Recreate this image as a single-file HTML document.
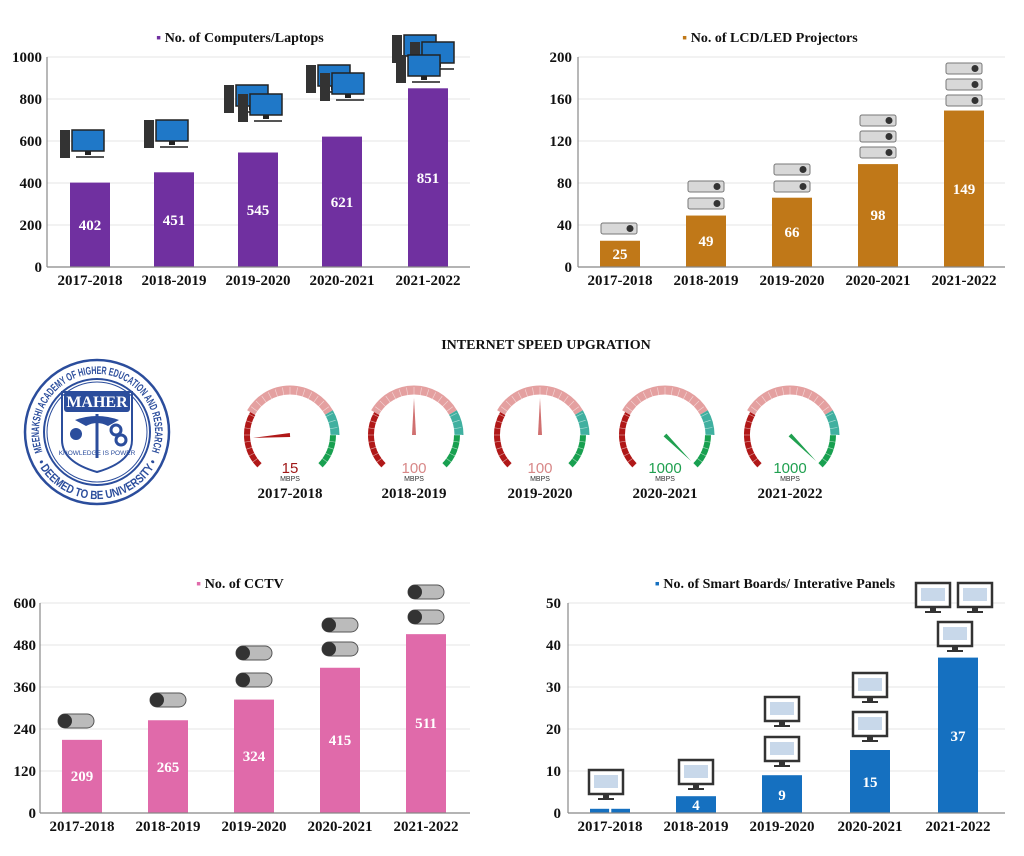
<!DOCTYPE html>
<html><head><meta charset="utf-8"><style>
body{margin:0;background:#fff;width:1024px;height:856px;overflow:hidden}
svg{display:block}
.t{font-family:"Liberation Serif",serif;font-weight:bold;fill:#111}
.ax{font-family:"Liberation Serif",serif;font-weight:bold;font-size:15px;fill:#111}
.v{font-family:"Liberation Serif",serif;font-weight:bold;font-size:15px;fill:#fff}
</style></head><body>
<svg id="s" width="1024" height="856" viewBox="0 0 1024 856" xmlns="http://www.w3.org/2000/svg">
<g id="grid" stroke="#e6e6e6" stroke-width="1"></g>
<!-- Chart 1 -->
<text class="t" x="240" y="42" font-size="14" text-anchor="middle"><tspan fill="#7030a0">▪</tspan> No. of Computers/Laptops</text>
<g class="ax" text-anchor="end">
<text x="42" y="62">1000</text><text x="42" y="104">800</text><text x="42" y="146">600</text><text x="42" y="188">400</text><text x="42" y="230">200</text><text x="42" y="272">0</text></g>
<g fill="#7030a0"><rect x="70" y="182.6" width="40" height="84.4"/><rect x="154" y="172.3" width="40" height="94.7"/><rect x="238" y="152.5" width="40" height="114.5"/><rect x="322" y="136.6" width="40" height="130.4"/><rect x="408" y="88.3" width="40" height="178.7"/></g>
<g class="v" text-anchor="middle"><text x="90" y="230">402</text><text x="174" y="225">451</text><text x="258" y="215">545</text><text x="342" y="207">621</text><text x="428" y="183">851</text></g>
<g class="ax" text-anchor="middle"><text x="90" y="285">2017-2018</text><text x="174" y="285">2018-2019</text><text x="258" y="285">2019-2020</text><text x="342" y="285">2020-2021</text><text x="428" y="285">2021-2022</text></g>
<!-- Chart 2 -->
<text class="t" x="770" y="42" font-size="14" text-anchor="middle"><tspan fill="#c07818">▪</tspan> No. of LCD/LED Projectors</text>
<g class="ax" text-anchor="end">
<text x="572" y="62">200</text><text x="572" y="104">160</text><text x="572" y="146">120</text><text x="572" y="188">80</text><text x="572" y="230">40</text><text x="572" y="272">0</text></g>
<g fill="#c07818"><rect x="600" y="240.75" width="40" height="26.25"/><rect x="686" y="215.55" width="40" height="51.45"/><rect x="772" y="197.7" width="40" height="69.3"/><rect x="858" y="164.1" width="40" height="102.9"/><rect x="944" y="110.55" width="40" height="156.45"/></g>
<g class="v" text-anchor="middle"><text x="620" y="259">25</text><text x="706" y="246">49</text><text x="792" y="237">66</text><text x="878" y="220">98</text><text x="964" y="194">149</text></g>
<g class="ax" text-anchor="middle"><text x="620" y="285">2017-2018</text><text x="706" y="285">2018-2019</text><text x="792" y="285">2019-2020</text><text x="878" y="285">2020-2021</text><text x="964" y="285">2021-2022</text></g>
<!-- Middle -->
<text class="t" x="546" y="349" font-size="14" text-anchor="middle">INTERNET SPEED UPGRATION</text>
<g class="ax" text-anchor="middle"><text x="290" y="498">2017-2018</text><text x="414" y="498">2018-2019</text><text x="540" y="498">2019-2020</text><text x="665" y="498">2020-2021</text><text x="790" y="498">2021-2022</text></g>
<g id="gauges"></g>
<g id="icons"></g>
<!-- Logo -->
<g>
<circle cx="97" cy="432" r="72" fill="none" stroke="#2b4d9c" stroke-width="2.5"/>
<circle cx="97" cy="432" r="53" fill="none" stroke="#2b4d9c" stroke-width="2"/>
<circle cx="97" cy="432" r="50" fill="none" stroke="#2b4d9c" stroke-width="1"/>
<defs><path id="lp" d="M 42.5 451.8 A 58 58 0 1 1 151.5 451.8"/><path id="lp2" d="M 34 454.9 A 67 67 0 0 0 160 454.9"/></defs>
<text font-family="Liberation Sans,sans-serif" font-weight="bold" font-size="11" fill="#2b4d9c"><textPath href="#lp" textLength="222" lengthAdjust="spacingAndGlyphs">MEENAKSHI ACADEMY OF HIGHER EDUCATION AND RESEARCH</textPath></text>
<text font-family="Liberation Sans,sans-serif" font-weight="bold" font-size="12" fill="#2b4d9c"><textPath href="#lp2" startOffset="8" textLength="148" lengthAdjust="spacingAndGlyphs">• DEEMED TO BE UNIVERSITY •</textPath></text>
<path d="M62 392 H132 V440 Q132 462 97 472 Q62 462 62 440 Z" fill="none" stroke="#2b4d9c" stroke-width="2"/>
<rect x="64" y="392" width="66" height="20" rx="3" fill="#2b4d9c"/>
<text x="97" y="407" text-anchor="middle" font-family="Liberation Serif,serif" font-weight="bold" font-size="16" fill="#fff">MAHER</text>
<line x1="97" y1="414" x2="97" y2="458" stroke="#2b4d9c" stroke-width="3"/>
<path d="M75 420 Q97 412 119 420 L108 426 Q97 420 86 426 Z" fill="#2b4d9c"/>
<circle cx="76" cy="434" r="6" fill="#2b4d9c"/>
<circle cx="116" cy="430" r="5" fill="none" stroke="#2b4d9c" stroke-width="3"/><circle cx="121" cy="440" r="5" fill="none" stroke="#2b4d9c" stroke-width="3"/>
<text x="97" y="455" text-anchor="middle" font-family="Liberation Sans,sans-serif" font-size="6.5" fill="#2b4d9c">KNOWLEDGE IS POWER</text>
</g>
<!-- Chart 3 -->
<text class="t" x="240" y="588" font-size="14" text-anchor="middle"><tspan fill="#e06aaa">▪</tspan> No. of CCTV</text>
<g class="ax" text-anchor="end">
<text x="36" y="608">600</text><text x="36" y="650">480</text><text x="36" y="692">360</text><text x="36" y="734">240</text><text x="36" y="776">120</text><text x="36" y="818">0</text></g>
<g fill="#e06aaa"><rect x="62" y="739.85" width="40" height="73.15"/><rect x="148" y="720.25" width="40" height="92.75"/><rect x="234" y="699.6" width="40" height="113.4"/><rect x="320" y="667.75" width="40" height="145.25"/><rect x="406" y="634.15" width="40" height="178.85"/></g>
<g class="v" text-anchor="middle"><text x="82" y="781">209</text><text x="168" y="772">265</text><text x="254" y="761">324</text><text x="340" y="745">415</text><text x="426" y="728">511</text></g>
<g class="ax" text-anchor="middle"><text x="82" y="831">2017-2018</text><text x="168" y="831">2018-2019</text><text x="254" y="831">2019-2020</text><text x="340" y="831">2020-2021</text><text x="426" y="831">2021-2022</text></g>
<!-- Chart 4 -->
<text class="t" x="775" y="588" font-size="14" text-anchor="middle"><tspan fill="#1570c0">▪</tspan> No. of Smart Boards/ Interative Panels</text>
<g class="ax" text-anchor="end">
<text x="561" y="608">50</text><text x="561" y="650">40</text><text x="561" y="692">30</text><text x="561" y="734">20</text><text x="561" y="776">10</text><text x="561" y="818">0</text></g>
<g fill="#1570c0"><rect x="590" y="808.8" width="40" height="4.2"/><rect x="676" y="796.2" width="40" height="16.8"/><rect x="762" y="775.2" width="40" height="37.8"/><rect x="850" y="750" width="40" height="63"/><rect x="938" y="657.6" width="40" height="155.4"/></g>
<g class="v" text-anchor="middle"><text x="610" y="816">1</text><text x="696" y="810">4</text><text x="782" y="800">9</text><text x="870" y="787">15</text><text x="958" y="741">37</text></g>
<g class="ax" text-anchor="middle"><text x="610" y="831">2017-2018</text><text x="696" y="831">2018-2019</text><text x="782" y="831">2019-2020</text><text x="870" y="831">2020-2021</text><text x="958" y="831">2021-2022</text></g>
<g id="axes" stroke="#888" stroke-width="1.2"></g>
</svg>
<script>
var NS="http://www.w3.org/2000/svg";
function el(p,t,a){var e=document.createElementNS(NS,t);for(var k in a)e.setAttribute(k,a[k]);p.appendChild(e);return e;}
var G=document.getElementById('grid'),A=document.getElementById('axes'),I=document.getElementById('icons'),GG=document.getElementById('gauges');
function chart(x0,x1,y0,y1){for(var i=0;i<=5;i++){var y=y0-(y0-y1)*i/5;if(i>0)el(G,'line',{x1:x0,x2:x1,y1:y,y2:y});}
el(A,'line',{x1:x0,x2:x1,y1:y0,y2:y0});el(A,'line',{x1:x0,x2:x0,y1:y0,y2:y1});}
chart(47,470,267,57);chart(578,1005,267,57);chart(40,470,813,603);chart(568,1005,813,603);
function pc(x,y){el(I,'rect',{x:x,y:y,width:10,height:28,fill:'#333'});el(I,'rect',{x:x+12,y:y,width:32,height:21,fill:'#1f78c8',stroke:'#222','stroke-width':1.5});el(I,'rect',{x:x+25,y:y+21,width:6,height:4,fill:'#222'});el(I,'rect',{x:x+16,y:y+26,width:28,height:2,fill:'#555'});}
pc(60,130);pc(144,120);pc(224,85);pc(238,94);pc(306,65);pc(320,73);pc(392,35);pc(410,42);pc(396,55);
function pj(x,y){el(I,'rect',{x:x,y:y,width:36,height:11,rx:2,fill:'#d8d8d8',stroke:'#777','stroke-width':1});el(I,'circle',{cx:x+29,cy:y+5.5,r:3.5,fill:'#333'});}
pj(601,223);pj(688,181);pj(688,198);pj(774,164);pj(774,181);pj(860,115);pj(860,131);pj(860,147);pj(946,63);pj(946,79);pj(946,95);
function cc(x,y){el(I,'rect',{x:x,y:y,width:36,height:14,rx:7,fill:'#bbb',stroke:'#555','stroke-width':1});el(I,'ellipse',{cx:x+7,cy:y+7,rx:7,ry:7,fill:'#333'});}
cc(58,714);cc(150,693);cc(236,673);cc(236,646);cc(322,642);cc(322,618);cc(408,610);cc(408,585);
function sb(x,y){el(I,'rect',{x:x,y:y,width:34,height:24,fill:'#fff',stroke:'#333','stroke-width':2.5});el(I,'rect',{x:x+5,y:y+5,width:24,height:13,fill:'#c8d8ea'});el(I,'rect',{x:x+14,y:y+24,width:6,height:4,fill:'#333'});el(I,'rect',{x:x+9,y:y+28,width:16,height:2,fill:'#333'});}
sb(589,770);sb(679,760);sb(765,737);sb(765,697);sb(853,712);sb(853,673);sb(938,622);sb(916,583);sb(958,583);
function arc(cx,cy,r,a0,a1,c,w){var p=function(a){var t=a*Math.PI/180;return [cx+r*Math.cos(t),cy-r*Math.sin(t)];};var s=p(a0),e=p(a1);el(GG,'path',{d:'M'+s[0]+' '+s[1]+' A'+r+' '+r+' 0 '+(Math.abs(a0-a1)>180?1:0)+' 1 '+e[0]+' '+e[1],fill:'none',stroke:c,'stroke-width':w});}
var gs=[[290,15,100,'#a01818','15'],[414,100,200,'#d88888','100'],[540,100,200,'#d88888','100'],[665,1000,1000,'#20a050','1000'],[790,1000,1000,'#20a050','1000']];
gs.forEach(function(g){var cx=g[0],cy=435,r=43;
arc(cx,cy,r,225,150,'#b01818',6);arc(cx,cy,r+2,150,30,'#e4a0a0',9);arc(cx,cy,r+2,30,0,'#40b0a0',9);arc(cx,cy,r,0,-45,'#18a050',6);
for(var i=0;i<=30;i++){var a=(225-270*i/30)*Math.PI/180;el(GG,'line',{x1:cx+(r-4)*Math.cos(a),y1:cy-(r-4)*Math.sin(a),x2:cx+(r+5)*Math.cos(a),y2:cy-(r+5)*Math.sin(a),stroke:'#fff','stroke-width':0.6,opacity:0.6});}
var ang=(225-270*g[1]/g[2])*Math.PI/180,L=r-6;
var tx=cx+L*Math.cos(ang),ty=cy-L*Math.sin(ang),px=-Math.sin(ang)*2,py=-Math.cos(ang)*2;
el(GG,'polygon',{points:tx+','+ty+' '+(cx+px)+','+(cy+py)+' '+(cx-px)+','+(cy-py),fill:g[1]==100?'#d07070':(g[1]==15?'#b01818':'#20a050')});
var t=el(GG,'text',{x:cx,y:cy+38,'text-anchor':'middle','font-family':'Liberation Sans,sans-serif','font-size':15,fill:g[3]});t.textContent=g[4];
var m=el(GG,'text',{x:cx,y:cy+46,'text-anchor':'middle','font-family':'Liberation Sans,sans-serif','font-size':7,fill:'#333'});m.textContent='MBPS';
});
</script>
</body></html>
